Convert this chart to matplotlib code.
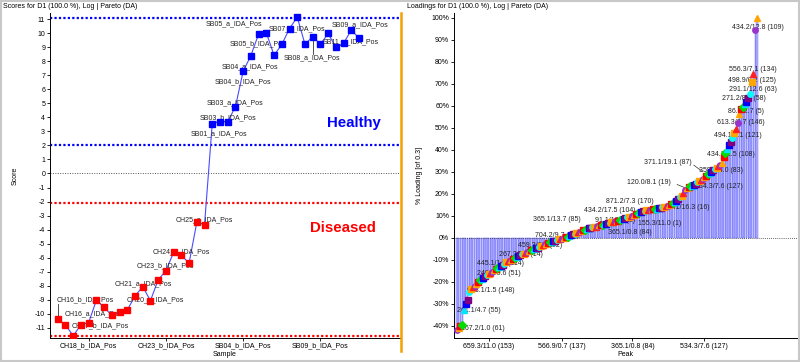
import matplotlib
matplotlib.use("Agg")
import matplotlib.pyplot as plt
import numpy as np

plt.rcParams["font.family"] = ["Liberation Sans", "DejaVu Sans"]
plt.rcParams["font.size"] = 5
plt.rcParams["axes.unicode_minus"] = False

# ---- scores (left panel) ----
samples = [
    "CH16_b", "CH16_a", "CH17_b", "CH17_a", "CH18_b", "CH18_a", "CH19_b", "CH19_a",
    "CH20_b", "CH20_a", "CH21_b", "CH21_a", "CH22_b", "CH22_a", "CH23_b", "CH23_a",
    "CH24_b", "CH24_a", "CH25_b", "CH25_a",
    "SB01_b", "SB01_a", "SB03_b", "SB03_a", "SB04_b", "SB04_a", "SB05_b", "SB05_a",
    "SB06_b", "SB06_a", "SB07_b", "SB07_a", "SB08_b", "SB08_a", "SB09_b", "SB09_a",
    "SB10_b", "SB10_a", "SB11_b", "SB11_a",
]
samples = [s + "_IDA_Pos" for s in samples]
scores = [
    -10.4, -10.8, -11.6, -10.8, -10.65, -9.06, -9.56, -10.13, -9.9, -9.75,
    -8.75, -8.08, -9.08, -7.6, -6.94, -5.63, -5.85, -6.4, -3.49, -3.65,
    3.55, 3.7, 3.7, 4.77, 7.3, 8.42, 9.96, 10.06, 8.44, 9.22,
    10.35, 11.17, 9.23, 9.77, 9.23, 10.0, 9.01, 9.3, 10.25, 9.66,
]
sample_ticks = ["CH18_b_IDA_Pos", "CH23_b_IDA_Pos", "SB04_b_IDA_Pos", "SB09_b_IDA_Pos"]
healthy_lines = [11.07, 2.0]
diseased_lines = [-2.13, -11.6]

# ---- loadings (right panel), sorted ----
loadings = [
    -42.0, -41.0, -40.3, -39.8, -33.0, -30.0, -28.5, -24.5, -23.5, -22.5,
    -21.8, -21.0, -20.2, -19.4, -18.8, -18.2, -17.6, -17.0, -16.5, -16.0,
    -15.4, -14.9, -14.4, -13.9, -13.3, -12.8, -12.3, -11.8, -11.2, -10.8,
    -10.4, -10.0, -9.6, -9.2, -8.8, -8.4, -8.0, -7.6, -7.2, -6.8,
    -6.4, -6.1, -5.8, -5.4, -5.1, -4.8, -4.5, -4.1, -3.7, -3.4,
    -3.0, -2.7, -2.4, -2.1, -1.8, -1.6, -1.3, -1.1, -0.8, -0.6,
    -0.4, -0.1, 0.2, 0.5, 0.8, 1.2, 1.5, 1.9, 2.2, 2.5,
    2.8, 3.1, 3.4, 3.6, 3.9, 4.2, 4.5, 4.7, 4.9, 5.1,
    5.4, 5.6, 5.8, 6.0, 6.2, 6.4, 6.6, 6.8, 7.0, 7.2,
    7.4, 7.6, 7.8, 8.0, 8.3, 8.6, 8.9, 9.2, 9.5, 9.8,
    10.1, 10.5, 10.9, 11.3, 11.6, 11.8, 12.0, 12.2, 12.4, 12.6,
    12.8, 12.9, 13.0, 13.1, 13.2, 13.3, 13.5, 13.8, 14.1, 14.3,
    14.5, 14.8, 15.3, 15.8, 16.3, 16.9, 17.6, 18.4, 19.2, 20.3,
    21.6, 22.5, 22.9, 23.3, 23.7, 24.1, 24.6, 25.2, 25.7, 26.2,
    26.8, 27.4, 28.1, 28.8, 29.4, 30.1, 30.7, 31.3, 31.9, 32.6,
    33.3, 34.1, 36.5, 38.6, 40.4, 42.1, 43.6, 45.5, 47.6, 49.5,
    52.0, 56.5, 58.5, 59.5, 60.6, 61.7, 63.5, 65.5, 71.0, 74.5,
    94.5, 100.0,
]
peak_tick_pos = [18, 60, 100, 141]
peak_tick_labels = ["659.3/11.0 (153)", "566.9/0.7 (137)", "365.1/0.8 (84)", "534.3/7.6 (127)"]

# label placement (layout only)
score_labels = [
    ("SB05_a_IDA_Pos", 19.1, 10.68), ("SB07_a_IDA_Pos", 27.3, 10.34),
    ("SB09_a_IDA_Pos", 35.5, 10.63), ("SB05_b_IDA_Pos", 22.3, 9.23),
    ("SB11_a_IDA_Pos", 34.3, 9.39), ("SB08_a_IDA_Pos", 29.3, 8.3),
    ("SB04_a_IDA_Pos", 21.2, 7.59), ("SB04_b_IDA_Pos", 20.3, 6.54),
    ("SB03_a_IDA_Pos", 19.3, 5.06), ("SB03_b_IDA_Pos", 18.4, 4.01),
    ("SB01_a_IDA_Pos", 17.2, 2.87), ("CH25_a_IDA_Pos", 15.2, -3.32),
    ("CH24_b_IDA_Pos", 12.3, -5.56), ("CH23_b_IDA_Pos", 10.2, -6.6),
    ("CH21_a_IDA_Pos", 7.3, -7.85), ("CH20_a_IDA_Pos", 8.9, -9.04),
    ("CH16_b_IDA_Pos", -0.1, -9.04), ("CH16_a_IDA_Pos", 0.94, -9.99),
    ("CH17_b_IDA_Pos", 1.8, -10.9),
]
score_leaders = [("CH16_b_IDA_Pos", -9.35), ("SB08_a_IDA_Pos", 8.55)]

loading_labels = [
    ("434.2/12.8 (109)", 156.6, 95.6), ("556.3/7.1 (134)", 155.0, 76.6),
    ("498.9/0.2 (125)", 154.3, 71.7), ("291.1/12.6 (63)", 155.2, 67.6),
    ("271.2/8.6 (58)", 151.3, 63.4), ("86.1/2.7 (5)", 154.7, 57.3),
    ("613.3/0.7 (146)", 148.0, 52.3), ("494.1/8.1 (121)", 146.5, 46.6),
    ("434.2/2.5 (108)", 142.4, 37.8), ("371.1/19.1 (87)", 106.6, 34.0),
    ("358.2/4.0 (83)", 138.1, 30.4), ("120.0/8.1 (19)", 97.1, 25.2),
    ("534.3/7.6 (127)", 135.5, 23.1), ("871.2/7.3 (170)", 85.0, 16.6),
    ("144.1/16.3 (16)", 116.7, 13.7), ("434.2/17.5 (104)", 72.6, 12.2),
    ("365.1/13.7 (85)", 43.2, 8.4), ("91.1/13.8 (3)", 78.5, 7.9),
    ("155.3/11.0 (1)", 103.0, 6.6), ("365.1/0.8 (84)", 86.3, 2.2),
    ("704.2/9.7 (96)", 44.5, 1.1), ("459.3/9.7 (92)", 35.0, -3.4),
    ("267.2/5.5 (14)", 24.0, -7.8), ("445.1/1.8 (114)", 11.6, -11.7),
    ("240.1/0.6 (51)", 11.6, -16.2), ("673.1/1.5 (148)", 5.5, -23.9),
    ("261.1/4.7 (55)", 0.2, -33.3), ("167.2/1.0 (61)", 2.3, -41.3),
]

fig = plt.figure(figsize=(8, 3.62), dpi=100)
ax1 = fig.add_axes([0.0625, 0.067, 0.4375, 0.897])
ax2 = fig.add_axes([0.5675, 0.067, 0.42875, 0.897])

# left panel
x = np.arange(len(samples))
is_ch = np.array([s.startswith("CH") for s in samples])
y = np.array(scores)
ax1.plot(x, y, color="#4a4aff", lw=0.8, zorder=2)
ax1.plot(x[is_ch], y[is_ch], "s", color="#ff0000", ms=5, zorder=4)
ax1.plot(x[~is_ch], y[~is_ch], "s", color="#0000ff", ms=5, zorder=4)
for h in healthy_lines:
    ax1.axhline(h, color="#0000ff", lw=1.6, dashes=(1, 1), zorder=1)
for d in diseased_lines:
    ax1.axhline(d, color="#ff0000", lw=1.6, dashes=(1, 1), zorder=1)
ax1.axhline(0, color="#555555", lw=0.7, dashes=(1, 1.5), zorder=1)
for name, tx, ty in score_labels:
    ax1.text(tx, ty, name, ha="left", va="center", fontsize=5, color="#222222", zorder=3)
for name, ye in score_leaders:
    i = samples.index(name)
    ax1.plot([i, i], [scores[i], ye], color="#333333", lw=0.6, zorder=3)
ax1.text(38.4, 3.6, "Healthy", color="#0000ff", fontsize=10.8, fontweight="bold",
         ha="center", va="center")
ax1.text(36.9, -3.9, "Diseased", color="#ff0000", fontsize=10.8, fontweight="bold",
         ha="center", va="center")
ax1.set_xlim(-1.0, 44.3)
ax1.set_ylim(-11.73, 11.46)
ax1.set_yticks(np.arange(-11, 12))
ax1.set_xticks([samples.index(s) for s in sample_ticks])
ax1.set_xticklabels(sample_ticks)
ax1.set_xlabel("Sample", labelpad=1)
ax1.set_ylabel("Score", labelpad=12)
ax1.spines["top"].set_visible(False)
ax1.spines["right"].set_visible(False)

# right panel
xi = np.arange(len(loadings))
ax2.bar(xi, loadings, width=0.8, color="#b6b6fa", edgecolor="#5c5cff", linewidth=0.3, zorder=1)
marker_cycle = [("o", "#9933cc"), ("^", "#ffa500"), ("s", "#ff0000"), ("D", "#00dd00"),
                ("^", "#00e5ff"), ("s", "#0000ff"), ("s", "#800080"), ("o", "#00ffff"),
                ("s", "#ffa500"), ("^", "#ff2020")]
for i, v in enumerate(loadings):
    m, c = marker_cycle[i % len(marker_cycle)]
    ax2.plot(i, v, m, color=c, ms=3.9, mec=c, zorder=4)
ax2.axhline(0, color="#333333", lw=0.6, dashes=(1, 1.5), zorder=2)
for txt, tx, ty in loading_labels:
    ax2.text(tx, ty, txt, ha="left", va="center", fontsize=5, color="#222222", zorder=3)
ax2.plot([125.5, 132.5], [24.2, 21.9], color="#333333", lw=0.5, zorder=3)
ax2.plot([135.0, 140.0], [33.0, 30.0], color="#333333", lw=0.5, zorder=3)
ax2.set_xlim(-1.7, 193.8)
ax2.set_ylim(-45.5, 102.2)
ax2.set_yticks(np.arange(-40, 101, 10))
ax2.set_yticklabels([f"{t}%" for t in range(-40, 101, 10)])
ax2.set_xticks(peak_tick_pos)
ax2.set_xticklabels(peak_tick_labels)
ax2.set_xlabel("Peak", labelpad=1)
ax2.set_ylabel("% Loading [of 0.3]", labelpad=6)
ax2.spines["top"].set_visible(False)
ax2.spines["right"].set_visible(False)

for ax in (ax1, ax2):
    ax.tick_params(length=2, width=0.6, pad=1.5, labelsize=5)
    ax.spines["left"].set_linewidth(0.7)
    ax.spines["bottom"].set_linewidth(0.7)

fig.text(0.004, 0.981, "Scores for D1 (100.0 %), Log | Pareto (DA)", fontsize=5, va="center")
fig.text(0.509, 0.981, "Loadings for D1 (100.0 %), Log | Pareto (DA)", fontsize=5, va="center")

# panel frames
fig.add_artist(plt.Line2D([0.5015, 0.5015], [0.03, 0.965], color="#f5a000", lw=1.8))
fig.add_artist(plt.Rectangle((0.001, 0.003), 0.998, 0.994, fill=False,
                             edgecolor="#c8c8c8", lw=1.5))

fig.savefig("out.png", dpi=100)
